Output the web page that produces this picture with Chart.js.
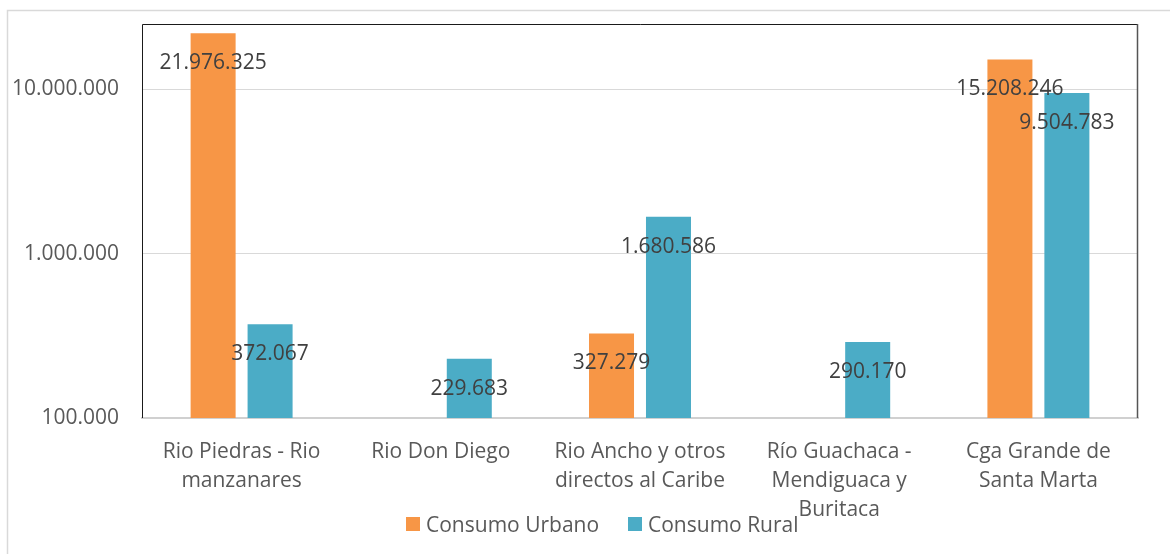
<!DOCTYPE html>
<html lang="es">
<head>
<meta charset="utf-8">
<title>Consumo por subzona</title>
<script src="https://cdn.jsdelivr.net/npm/chart.js@4.4.1/dist/chart.umd.min.js"></script>
<style>
  html, body { margin: 0; padding: 0; background: #fff; overflow: hidden; }
  #wrap { position: relative; width: 1170px; height: 554px; }
  .ley { position: absolute; top: 509px; height: 29px; display: flex; align-items: center;
         font: 21px "Open Sans", sans-serif; color: #595959; white-space: nowrap; }
  .ley i { display: inline-block; width: 14px; height: 14px; margin-right: 6px; }
</style>
</head>
<body>
<div id="wrap">
  <canvas id="chartConsumo" width="1170" height="554"></canvas>
  <div class="ley" style="left:406px"><i style="background:#F79646"></i>Consumo Urbano</div>
  <div class="ley" style="left:628px"><i style="background:#4BACC6"></i>Consumo Rural</div>
</div>
<script>
// Subzonas hidrográficas (etiquetas en varias líneas)
const subzonas = [
  ['Rio Piedras - Rio', 'manzanares'],
  'Rio Don Diego',
  ['Rio Ancho y otros', 'directos al Caribe'],
  ['Río Guachaca -', 'Mendiguaca y', 'Buritaca'],
  ['Cga Grande de', 'Santa Marta']
];
const consumoUrbano = [21976325, null, 327279, null, 15208246];
const consumoRural = [372067, 229683, 1680586, 290170, 9504783];
const ticksEjeY = [100000, 1000000, 10000000];

const FUENTE = '"Open Sans", sans-serif';

// 1234567 -> 1.234.567
function formatear(v) {
  return String(Math.round(v)).replace(/\B(?=(\d{3})+(?!\d))/g, '.');
}

// Marco exterior gris y borde del área de trazado
const marcos = {
  id: 'marcos',
  beforeDraw(chart) {
    const ctx = chart.ctx;
    ctx.save();
    ctx.strokeStyle = '#d9d9d9';
    ctx.lineWidth = 1.5;
    ctx.strokeRect(7.5, 10.5, 1400, 800);
    ctx.restore();
  },
  afterDatasetsDraw(chart) {
    const { ctx, chartArea: a } = chart;
    ctx.save();
    ctx.strokeStyle = '#1a1a1a';
    ctx.lineWidth = 1;
    ctx.beginPath();
    ctx.moveTo(a.left + 0.5, a.bottom);
    ctx.lineTo(a.left + 0.5, a.top + 0.5);
    ctx.lineTo(a.right, a.top + 0.5);
    ctx.stroke();
    ctx.strokeStyle = '#555';
    ctx.lineWidth = 1.5;
    ctx.beginPath();
    ctx.moveTo(a.right - 0.5, a.top);
    ctx.lineTo(a.right - 0.5, a.bottom);
    ctx.stroke();
    ctx.restore();
  }
};

// Etiquetas de valor dentro del extremo de cada barra
const etiquetas = {
  id: 'etiquetas',
  afterDatasetsDraw(chart) {
    const ctx = chart.ctx;
    ctx.save();
    ctx.font = '21px ' + FUENTE;
    ctx.fillStyle = '#404040';
    ctx.textAlign = 'center';
    ctx.textBaseline = 'middle';
    chart.data.datasets.forEach((ds, i) => {
      chart.getDatasetMeta(i).data.forEach((bar, j) => {
        const v = ds.data[j];
        if (v == null) return;
        ctx.fillText(formatear(v), bar.x, bar.y + 30);
      });
    });
    ctx.restore();
  }
};

new Chart(document.getElementById('chartConsumo'), {
  type: 'bar',
  data: {
    labels: subzonas,
    datasets: [
      { label: 'Consumo Urbano', data: consumoUrbano, backgroundColor: '#F79646' },
      { label: 'Consumo Rural', data: consumoRural, backgroundColor: '#4BACC6' }
    ]
  },
  options: {
    responsive: false,
    animation: false,
    categoryPercentage: 0.572,
    barPercentage: 0.79,
    layout: { padding: { top: 24, right: 32, left: 0, bottom: 0 } },
    plugins: {
      legend: { display: false },
      tooltip: { enabled: false }
    },
    scales: {
      x: {
        afterFit(s) { s.height = 136; },
        grid: { display: false, drawTicks: false },
        border: { color: '#d0d0d0', width: 2 },
        ticks: {
          color: '#595959',
          font: { family: FUENTE, size: 21, lineHeight: 1.4 },
          padding: 19,
          maxRotation: 0,
          autoSkip: false
        }
      },
      y: {
        type: 'logarithmic',
        min: 100000,
        max: 25000000,
        afterFit(s) {
          s.width = 142;
          s.paddingTop = 0;
          s.paddingBottom = 0;
        },
        afterBuildTicks(s) { s.ticks = ticksEjeY.map(v => ({ value: v })); },
        grid: { color: '#d9d9d9', drawTicks: false },
        border: { display: false },
        ticks: {
          color: '#595959',
          font: { family: FUENTE, size: 21 },
          padding: 23,
          callback: v => formatear(v)
        }
      }
    }
  },
  plugins: [marcos, etiquetas]
});
</script>
</body>
</html>
